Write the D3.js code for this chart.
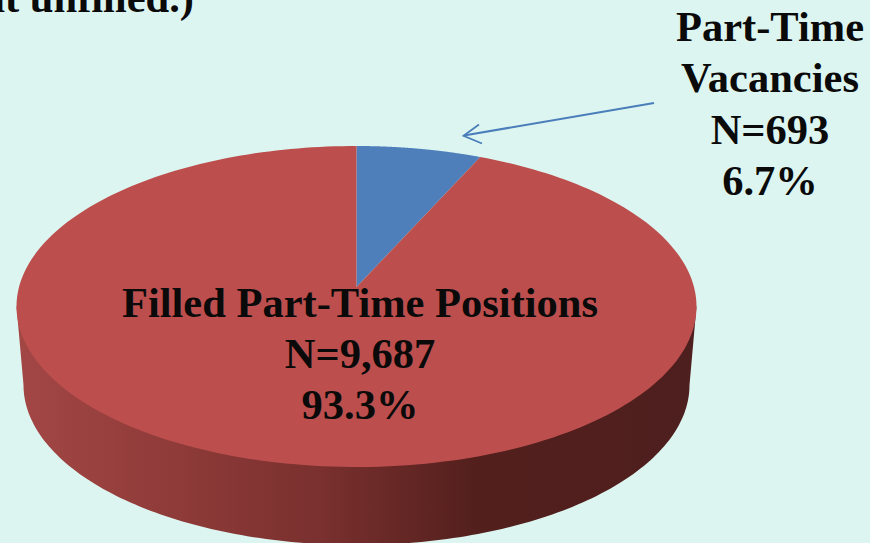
<!DOCTYPE html>
<html><head><meta charset="utf-8">
<script src="https://cdn.jsdelivr.net/npm/d3@7"></script>
<style>html,body{margin:0;padding:0;background:#ddf5f1;overflow:hidden}svg{display:block}
text{font-family:"Liberation Serif",serif;font-weight:700;fill:#0a0a0a;text-anchor:middle}</style>
</head><body><svg id="c" width="870" height="543"></svg>
<script>
const categories = ["Part-Time Vacancies", "Filled Part-Time Positions"];
const values = [693, 9687];
const sliceColors = ["#4f7fbb", "#bc4f4d"];
const vacancyLabel = ["Part-Time", "Vacancies", "N=693", "6.7%"];
const filledLabel = ["Filled Part-Time Positions", "N=9,687", "93.3%"];
const titleTail = "it unfilled.)";
const wallStops = [[0,"#a34745"],[0.27,"#8b3937"],[0.45,"#79302e"],[0.68,"#521f1c"],[1,"#4e1f1f"]];

const W = 870, H = 543;
const svg = d3.select("#c");
svg.append("rect").attr("width",W).attr("height",H).attr("fill","#ddf5f1");

// Perspective view of the pie's top face
const cx = 356.5, apexY = 287, topY = 146, botY = 467, halfW = 340;
const a = apexY - topY, b = botY - apexY;
const k = (b - a) / (a + b), A = a * (1 + k), B = halfW * Math.sqrt(1 - k * k);
const project = t => {
  const u = Math.sin(t), v = Math.cos(t), w = 1 + k * v;
  return [cx + B * u / w, apexY - A * v / w];
};
const samples = (t0, t1, n = 160) => d3.range(n + 1).map(i => t0 + (t1 - t0) * i / n);
const line = d3.line();

// Side wall
const wallCy = 385, wallRy = 160, wallRx = 333;
const defs = svg.append("defs");
const grad = defs.append("linearGradient").attr("id","wall").attr("gradientUnits","userSpaceOnUse")
  .attr("x1",cx-halfW).attr("x2",cx+halfW).attr("y1",0).attr("y2",0);
wallStops.forEach(s => grad.append("stop").attr("offset",s[0]).attr("stop-color",s[1]));
const wallPts = [[cx - halfW, 306.5]]
  .concat(samples(Math.PI, 0).map(t => [cx + wallRx * Math.cos(t), wallCy + wallRy * Math.sin(t)]))
  .concat([[cx + halfW, 306.5]]);
svg.append("path").attr("d", line(wallPts) + "Z").attr("fill","url(#wall)");

// Top face slices
const pie = d3.pie().sort(null);
const color = d3.scaleOrdinal().domain(categories).range(sliceColors);
svg.selectAll("path.slice").data(pie(values)).join("path").attr("class","slice")
  .attr("fill",(d,i)=>color(categories[i]))
  .attr("d", d => line([[cx, apexY]].concat(samples(d.startAngle, d.endAngle, 240).map(project))) + "Z");

// Leader arrow
const arrowColor = "#4a7ebb";
svg.append("line").attr("x1",654).attr("y1",103).attr("x2",464).attr("y2",135.5)
  .attr("stroke",arrowColor).attr("stroke-width",2);
svg.append("path").attr("d","M479,124.5L463.5,135.8L482,143.5").attr("fill","none")
  .attr("stroke",arrowColor).attr("stroke-width",1.8);

// Labels
const fs = 42.5;
svg.selectAll("text.v").data(vacancyLabel).join("text").attr("class","v")
  .attr("x",770).attr("y",(d,i)=>41+i*51.4).attr("font-size",fs).text(d=>d);
svg.selectAll("text.f").data(filledLabel).join("text").attr("class","f")
  .attr("x",360).attr("y",(d,i)=>317+i*51).attr("font-size",fs).text(d=>d);
svg.append("text").attr("x",194).attr("y",12).attr("font-size",fs).style("text-anchor","end").text(titleTail);
</script></body></html>
